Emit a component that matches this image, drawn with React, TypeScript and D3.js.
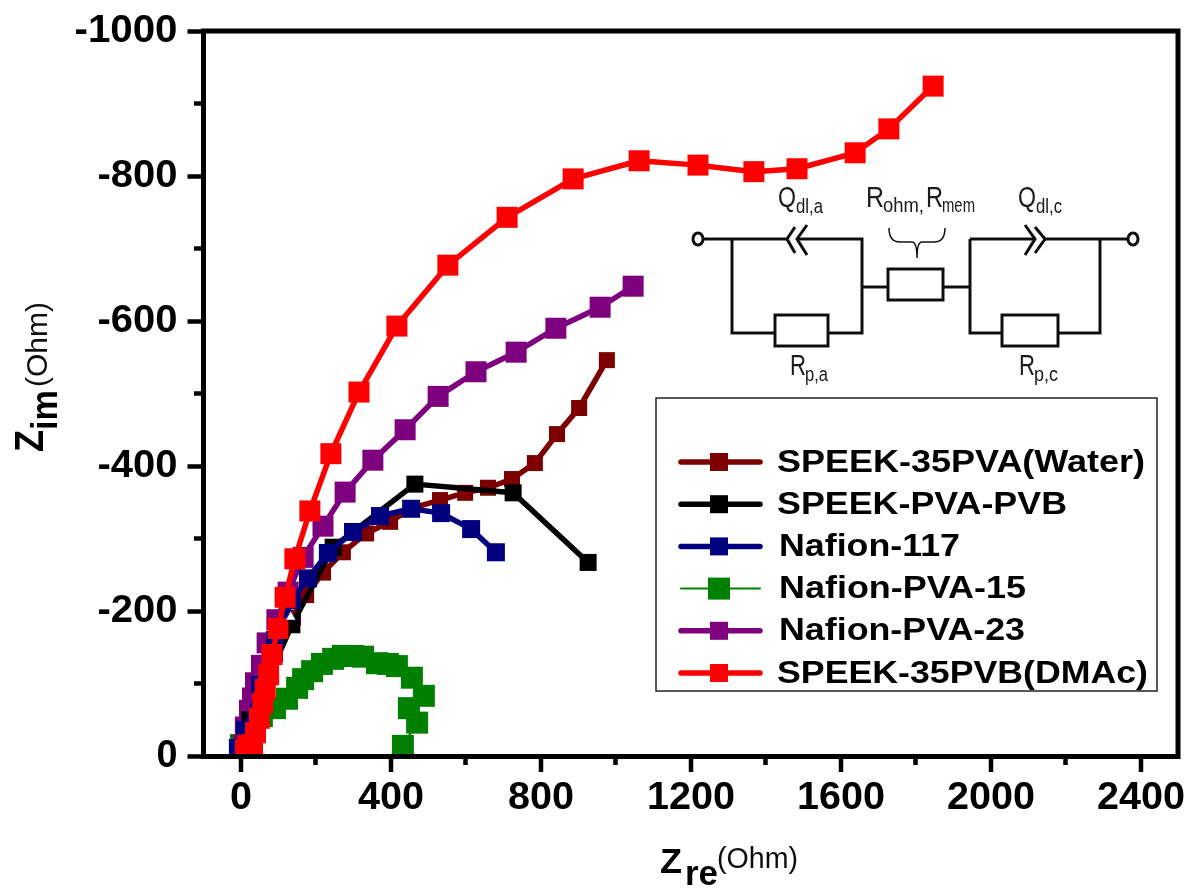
import React, { useEffect, useRef } from "react";
import * as d3 from "d3";

const xTicks = [0, 400, 800, 1200, 1600, 2000, 2400];
const yTicks = [0, -200, -400, -600, -800, -1000];

// [Zre, -Zim]
const water = [[977,546],[903,480],[844,444],[785,404],[724,382],[660,370],[599,363],[532,353],[457,342],[399,323],[335,307],[273,281],[220,253],[175,222],[140,191],[92,140],[47,77],[12,15]];
const pvaPvb = [[927,267],[727,363],[465,375],[247,288],[137,181],[25,50],[7,8]];
const nafion117 = [[681,281],[615,313],[535,335],[455,341],[372,331],[300,309],[233,280],[180,245],[137,215],[92,160],[52,98],[12,36],[-7,11]];
const nafion15 = [[433,14],[471,46],[449,66],[489,83],[457,108],[417,124],[393,127],[364,128],[327,137],[300,138],[273,138],[247,134],[217,127],[191,117],[167,106],[151,94],[124,79],[92,66],[57,55],[31,43],[1,15]];
const nafion23 = [[1047,648],[959,619],[841,590],[735,557],[628,530],[527,496],[439,450],[353,408],[279,364],[220,317],[167,274],[127,226],[97,188],[71,156],[56,125],[40,101],[32,80],[24,63],[13,40],[8,15]];
const dmac = [[1847,924],[1729,865],[1639,832],[1484,810],[1369,806],[1220,815],[1063,821],[887,796],[711,743],[553,677],[417,593],[316,502],[241,417],[185,338],[145,272],[119,219],[100,176],[84,140],[75,112],[66,92],[59,73],[50,52],[40,32],[32,15],[19,15],[13,8]];

const legendNames = ["SPEEK-35PVA(Water)", "SPEEK-PVA-PVB", "Nafion-117", "Nafion-PVA-15", "Nafion-PVA-23", "SPEEK-35PVB(DMAc)"];
const legendWidths = [368, 290, 181, 247, 246, 371];
const legendColors = ["#7b0000", "#000000", "#00007f", "#008000", "#7f007f", "#ff0000"];
const legendData = [water, pvaPvb, nafion117, nafion15, nafion23, dmac];
const markerSizes = [16, 17, 18, 22, 21, 21];
const drawOrder = [3, 0, 4, 1, 2, 5];

export default function App() {
  const ref = useRef<SVGSVGElement>(null);

  useEffect(() => {
    const root = d3.select(ref.current);
    root.selectAll("*").remove();

    const x = d3.scaleLinear().domain([0, 2400]).range([240.5, 1140.5]);
    const y = d3.scaleLinear().domain([0, 1000]).range([756, 31]);
    const font = "'Liberation Sans', Arial, sans-serif";

    // the source is a slightly soft raster
    const defs = root.append("defs");
    defs.append("filter").attr("id", "soft").append("feGaussianBlur").attr("stdDeviation", 0.55);
    defs.append("clipPath").attr("id", "plot").append("rect").attr("x", 206).attr("y", 33).attr("width", 970).attr("height", 722);
    const svg = root.append("g").attr("filter", "url(#soft)");

    const label = (tx: number, ty: number, s: string, size: number, len: number, weight = "normal", fill = "#1a1a1a", rotate = false) =>
      svg.append("text")
        .attr("transform", rotate ? `translate(${tx},${ty}) rotate(-90)` : `translate(${tx},${ty})`)
        .attr("font-family", font).attr("font-size", size).attr("font-weight", weight).attr("fill", fill)
        .attr("textLength", len).attr("lengthAdjust", "spacingAndGlyphs").text(s);

    // series
    const line = d3.line<number[]>().x((d) => x(d[0])).y((d) => y(d[1]));
    const plot = svg.append("g").attr("clip-path", "url(#plot)");
    drawOrder.forEach((i) => {
      const g = plot.append("g");
      const data = legendData[i];
      g.append("path").attr("d", line(data)).attr("fill", "none")
        .attr("stroke", legendColors[i]).attr("stroke-width", i === 3 ? 2 : 5.5).attr("stroke-linejoin", "round");
      const s = markerSizes[i];
      g.selectAll("rect").data(data).join("rect")
        .attr("x", (d) => x(d[0]) - s / 2).attr("y", (d) => y(d[1]) - s / 2)
        .attr("width", s).attr("height", s).attr("fill", legendColors[i]);
    });
    // small white notch left between the markers in the source
    plot.append("path").attr("fill", "#fff").attr("stroke", "#00007f").attr("stroke-width", 0.5)
      .attr("d", `M${x(134)},${y(200)} l5,9 l-10,0 Z`);

    // frame and axes
    svg.append("rect").attr("x", 203.5).attr("y", 31).attr("width", 974.5).attr("height", 725.5)
      .attr("fill", "none").attr("stroke", "#000").attr("stroke-width", 5);

    const xAxis = svg.append("g").attr("transform", "translate(0,756)")
      .call(d3.axisBottom(x).tickValues(xTicks).tickSize(16).tickFormat((d) => String(d)));
    const yAxis = svg.append("g").attr("transform", "translate(203.5,0)")
      .call(d3.axisLeft(d3.scaleLinear().domain([0, -1000]).range([756, 31])).tickValues(yTicks).tickSize(16).tickFormat((d) => String(d)));
    xAxis.select(".domain").remove();
    yAxis.select(".domain").remove();
    [xAxis, yAxis].forEach((a) => {
      a.selectAll("line").attr("stroke", "#000").attr("stroke-width", 4.5);
      a.selectAll("text").attr("font-family", font).attr("font-weight", "bold").attr("font-size", 38).attr("fill", "#000");
    });
    xAxis.selectAll("text").attr("y", 53).attr("dy", 0)
      .attr("textLength", (d: any) => String(d).length * 22).attr("lengthAdjust", "spacingAndGlyphs");
    yAxis.selectAll("text").attr("x", -26).attr("dy", 10)
      .attr("textLength", (d: any) => (d === 0 ? 21 : 11 + (String(d).length - 1) * 23)).attr("lengthAdjust", "spacingAndGlyphs");

    // minor ticks
    const xMinor = d3.range(200, 2400, 400);
    const yMinor = d3.range(100, 1000, 200);
    svg.append("g").selectAll("line").data(xMinor).join("line")
      .attr("x1", (d) => x(d)).attr("x2", (d) => x(d)).attr("y1", 756).attr("y2", 765)
      .attr("stroke", "#000").attr("stroke-width", 4.5);
    svg.append("g").selectAll("line").data(yMinor).join("line")
      .attr("x1", 194).attr("x2", 204).attr("y1", (d) => y(d)).attr("y2", (d) => y(d))
      .attr("stroke", "#000").attr("stroke-width", 4.5);

    // legend
    svg.append("rect").attr("x", 656).attr("y", 398).attr("width", 501).attr("height", 293)
      .attr("fill", "#fff").attr("stroke", "#222").attr("stroke-width", 1.5);
    legendNames.forEach((name, i) => {
      const ly = 462 + i * 42.2;
      const g = svg.append("g");
      const green = i === 3;
      g.append("line").attr("x1", 681).attr("x2", 760).attr("y1", ly).attr("y2", ly)
        .attr("stroke", legendColors[i]).attr("stroke-width", green ? 2 : 5.5).attr("stroke-linecap", "round");
      const s = green ? 22 : 18;
      g.append("rect").attr("x", 719 - s / 2).attr("y", ly - s / 2).attr("width", s).attr("height", s).attr("fill", legendColors[i]);
      label(name.startsWith("Nafion") ? 779 : 777, ly + 9.5, name, 32, legendWidths[i], "bold", "#000");
    });

    // equivalent circuit inset
    const c = svg.append("g").attr("fill", "none").attr("stroke", "#111").attr("stroke-width", 3);
    const wire = (p: number[][]) => c.append("path").attr("d", d3.line()(p as [number, number][]));
    wire([[704, 239], [787, 239]]);
    wire([[797, 239], [862, 239], [862, 333], [828, 333]]);
    wire([[732, 239], [732, 333], [775, 333]]);
    wire([[862, 287], [888, 287]]);
    wire([[943, 287], [970, 287]]);
    wire([[970, 239], [1035, 239]]);
    wire([[1045, 239], [1127, 239]]);
    wire([[970, 239], [970, 333], [1002, 333]]);
    wire([[1058, 333], [1100, 333], [1100, 239]]);
    wire([[795, 227], [787, 239], [795, 253]]);
    wire([[807, 225], [797, 239], [807, 255]]);
    wire([[1025, 225], [1035, 239], [1025, 255]]);
    wire([[1035, 227], [1045, 239], [1035, 253]]);
    c.append("ellipse").attr("cx", 698).attr("cy", 239).attr("rx", 5).attr("ry", 6);
    c.append("ellipse").attr("cx", 1133).attr("cy", 239).attr("rx", 5).attr("ry", 6);
    c.append("rect").attr("x", 775).attr("y", 315).attr("width", 53).attr("height", 31);
    c.append("rect").attr("x", 888).attr("y", 269).attr("width", 55).attr("height", 31);
    c.append("rect").attr("x", 1002).attr("y", 315).attr("width", 56).attr("height", 31);
    c.append("path").attr("stroke-width", 1.5)
      .attr("d", "M889,228 Q889,242 900,242 L912,242 Q917,242 917,258 Q917,242 922,242 L934,242 Q945,242 945,228");

    label(778, 207, "Q", 30, 18);
    label(796, 213, "dl,a", 20, 27);
    label(1018, 207, "Q", 30, 18);
    label(1036, 213, "dl,c", 20, 26);
    label(866, 207, "R", 30, 18);
    label(883, 212, "ohm,", 20, 41);
    label(926, 207, "R", 30, 17);
    label(942, 212, "mem", 20, 33);
    label(790, 375, "R", 30, 16);
    label(805, 381, "p,a", 20, 23);
    label(1019, 375, "R", 30, 16);
    label(1034, 381, "p,c", 20, 24);

    // axis titles
    label(660, 873, "Z", 35, 22, "bold", "#000");
    label(685, 885, "re", 35, 33, "bold", "#000");
    label(717, 868, "(Ohm)", 29, 81, "normal", "#111");
    label(43, 452, "Z", 41, 22, "bold", "#000", true);
    label(57, 430, "im", 37, 40, "bold", "#000", true);
    label(47, 387, "(Ohm)", 30, 85, "normal", "#111", true);
  }, []);

  return <svg ref={ref} width={1192} height={890} style={{ position: "absolute", left: 0, top: 0, background: "#fff" }} />;
}
